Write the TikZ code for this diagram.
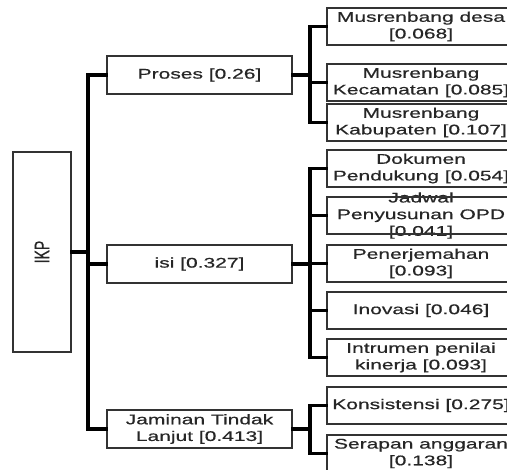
\documentclass[tikz,border=0pt]{standalone}
\usepackage{fontspec}
\usepackage{graphicx}
\setmainfont{Liberation Sans}[FakeStretch=1.5,FakeBold=0.6]
\newfontfamily\plainsans{Liberation Sans}[FakeBold=0.6]
\begin{document}
\begin{tikzpicture}[x=0.75pt,y=-0.75pt,
  box/.style={draw=black!80,line width=1.4pt,inner sep=0pt},
  ikpbox/.style={box,minimum width=43.5pt,minimum height=150pt},
  midbox/.style={box,minimum width=138.75pt,minimum height=28.5pt},
  leafbox/.style={box,minimum width=141pt,minimum height=27.75pt},
  txt/.style={text=black!85,font=\fontsize{10.5}{12.5}\selectfont,align=center,inner sep=0pt},
  conn/.style={line width=2.8pt,black,line cap=rect}]
\useasboundingbox (0,0) rectangle (507,470);
\clip (0,0) rectangle (507,470);
% texts
\node[txt] at (42,252) {\scalebox{1.5}[1]{\rotatebox{90}{\plainsans IKP}}};
\node[txt] at (199.5,75) {Proses [0.26]};
\node[txt] at (199.5,264) {isi [0.327]};
\node[txt] at (199.5,429) {Jaminan Tindak\\Lanjut [0.413]};
\node[txt] at (421,26.5) {Musrenbang desa\\{}[0.068]};
\node[txt] at (421,82.5) {Musrenbang\\Kecamatan [0.085]};
\node[txt] at (421,122.5) {Musrenbang\\Kabupaten [0.107]};
\node[txt] at (421,168.5) {Dokumen\\Pendukung [0.054]};
\node[txt] at (421,215.5) {Jadwal\\Penyusunan OPD\\{}[0.041]};
\node[txt] at (421,263.5) {Penerjemahan\\{}[0.093]};
\node[txt] at (421,310.5) {Inovasi [0.046]};
\node[txt] at (421,357.5) {Intrumen penilai\\kinerja [0.093]};
\node[txt] at (421,405.5) {Konsistensi [0.275]};
\node[txt] at (421,453.5) {Serapan anggaran\\{}[0.138]};
% boxes
\node[ikpbox] (ikp) at (42,252) {};
\node[midbox] (proses) at (199.5,75) {};
\node[midbox] (isi) at (199.5,264) {};
\node[midbox] (jam) at (199.5,429) {};
\node[leafbox] (l1) at (421,26.5) {};
\node[leafbox] (l2) at (421,82.5) {};
\node[leafbox] (l3) at (421,122.5) {};
\node[leafbox] (l4) at (421,168.5) {};
\node[leafbox] (l5) at (421,215.5) {};
\node[leafbox] (l6) at (421,263.5) {};
\node[leafbox] (l7) at (421,310.5) {};
\node[leafbox] (l8) at (421,357.5) {};
\node[leafbox] (l9) at (421,405.5) {};
\node[leafbox] (l10) at (421,453.5) {};
% connectors
\coordinate (tk) at (88,0);
\coordinate (st) at (310,0);
\draw[conn] (ikp.east) -- (ikp.east -| tk);
\draw[conn] (proses.west) -- (proses.west -| tk) -- (jam.west -| tk) -- (jam.west);
\draw[conn] (isi.west) -- (isi.west -| tk);
\draw[conn] (proses.east) -- (proses.east -| st);
\draw[conn] (l1.west) -- (l1.west -| st) -- (l3.west -| st) -- (l3.west);
\draw[conn] (l2.west) -- (l2.west -| st);
\draw[conn] (isi.east) -- (isi.east -| st);
\draw[conn] (l4.west) -- (l4.west -| st) -- (l8.west -| st) -- (l8.west);
\draw[conn] (l5.west) -- (l5.west -| st);
\draw[conn] (l6.west) -- (l6.west -| st);
\draw[conn] (l7.west) -- (l7.west -| st);
\draw[conn] (jam.east) -- (jam.east -| st);
\draw[conn] (l9.west) -- (l9.west -| st) -- (l10.west -| st) -- (l10.west);
\end{tikzpicture}
\end{document}
